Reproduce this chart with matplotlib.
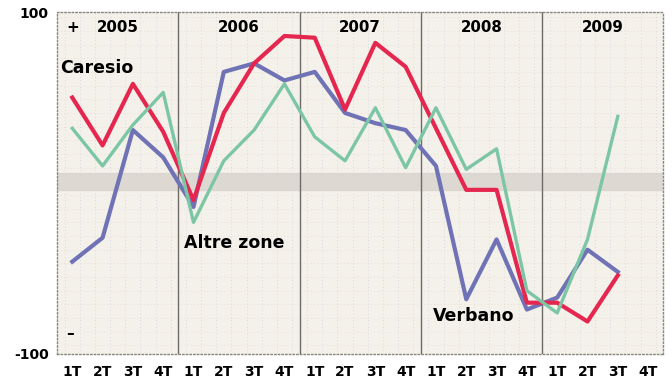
import numpy as np
import matplotlib.pyplot as plt

years = ['2005', '2006', '2007', '2008', '2009']
quarters = ['1T', '2T', '3T', '4T']

# saldo (%) per trimestre, 1T 2005 .. 3T 2009
caresio = [50, 22, 58, 30, -10, 41, 70, 86, 85, 43, 82, 68, 32, -4, -4, -70, -70, -81, -54]
verbano = [-46, -32, 31, 15, -14, 65, 70, 60, 65, 41, 35, 31, 10, -68, -33, -74, -67, -39, -52]
altre = [32, 10, 34, 53, -23, 13, 31, 58, 27, 13, 44, 9, 44, 8, 20, -63, -76, -33, 39]

plt.rcParams['font.family'] = ['DejaVu Sans']

fig = plt.figure(figsize=(6.72, 3.89), dpi=100)
ax = fig.add_axes([0.085, 0.09, 0.902, 0.879])
ax.set_facecolor('#f4f1ea')

x = np.arange(len(caresio)) + 0.5
ax.set_xlim(0, 20)
ax.set_ylim(-100, 100)

# faint dotted texture
for gx in np.arange(0.25, 20, 0.5):
    ax.axvline(gx, color='#b8c2e0', lw=0.6, ls=(0, (1, 3)), alpha=0.6, zorder=0)
for gy in np.arange(-95, 100, 8):
    ax.axhline(gy, color='#e8c8c0', lw=0.6, ls=(0, (1, 3)), alpha=0.6, zorder=0)

ax.axhspan(-4, 6, color='#d9d5ce', alpha=0.85, zorder=0.5)

for b in range(4, 20, 4):
    ax.axvline(b, color='#6e6a66', lw=1.0, zorder=1)

ax.plot(x, verbano, color='#6f72b5', lw=3.0, zorder=3)
ax.plot(x, caresio, color='#e5274f', lw=3.0, zorder=4)
ax.plot(x, altre, color='#7cc6a6', lw=2.4, zorder=5)

for i, yr in enumerate(years):
    ax.text(i * 4 + 2, 91, yr, ha='center', va='center', fontsize=10.8, fontweight='bold', zorder=6)

ax.text(0.3, 91, '+', ha='left', va='center', fontsize=11, fontweight='bold')
ax.text(0.3, -88, '\u2013', ha='left', va='center', fontsize=11, fontweight='bold')
ax.text(0.1, 67, 'Caresio', ha='left', va='center', fontsize=12.5, fontweight='bold', zorder=6)
ax.text(4.2, -35, 'Altre zone', ha='left', va='center', fontsize=12.5, fontweight='bold', zorder=6)
ax.text(12.4, -78, 'Verbano', ha='left', va='center', fontsize=12.5, fontweight='bold', zorder=6)

ax.set_xticks(x.tolist() + [19.5])
ax.set_xticklabels(quarters * 5, fontsize=10, fontweight='bold')
ax.set_yticks([100, -100])
ax.set_yticklabels(['100', '-100'], fontsize=10, fontweight='bold')
ax.tick_params(length=0, pad=8)
ax.tick_params(axis='y', pad=6)

for s in ax.spines.values():
    s.set_color('#8a8680')
    s.set_linestyle(':')
    s.set_linewidth(1.0)

fig.savefig('out.png', dpi=100)
